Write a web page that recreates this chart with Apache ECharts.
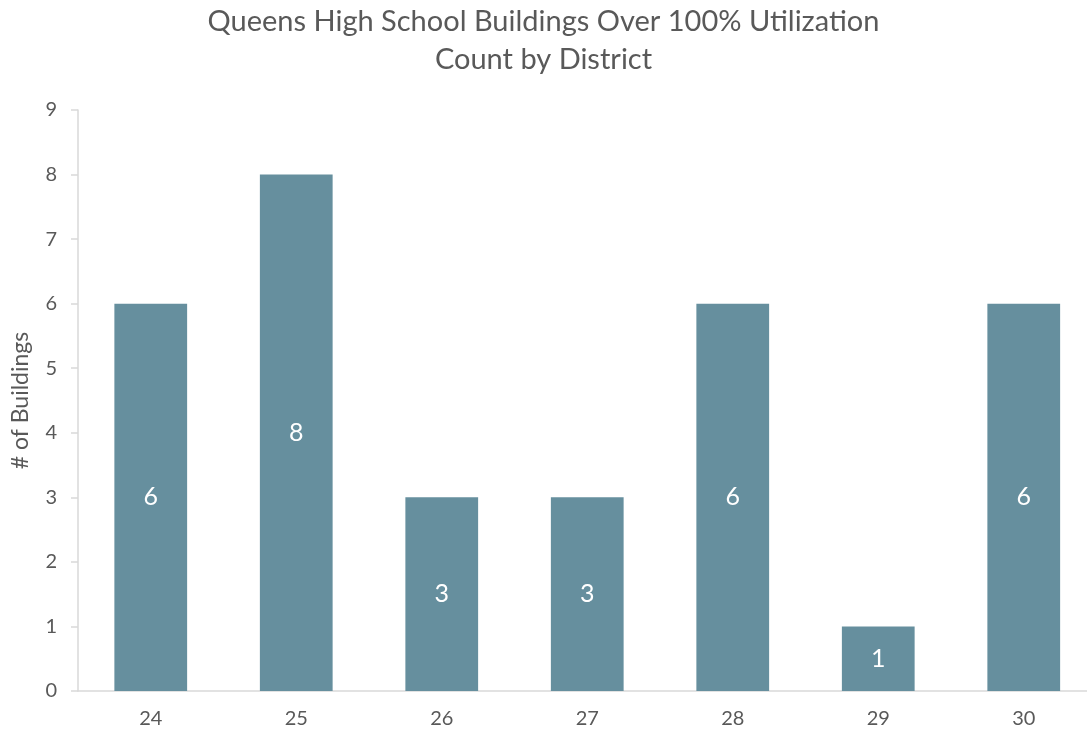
<!DOCTYPE html>
<html>
<head>
<meta charset="utf-8">
<script src="https://cdn.jsdelivr.net/npm/echarts@6/dist/echarts.min.js"></script>
<style>
  html, body { margin: 0; padding: 0; background: #fff; }
  #chart { width: 1087px; height: 735px; }
</style>
</head>
<body>
<div id="chart"></div>
<script>
// 구역별 100% 초과 건물 수
const districts = ['24', '25', '26', '27', '28', '29', '30'];
const buildingCounts = [6, 8, 3, 3, 6, 1, 6];
const yTicks = [0, 9, 1]; // min, max, interval

const textColor = '#595959';
const barColor = '#668f9e';
const fontFamily = 'Lato, "Open Sans", sans-serif';

const chart = echarts.init(document.getElementById('chart'));

chart.setOption({
    animation: false,
    textStyle: { fontFamily: fontFamily },
    title: {
        text: 'Queens High School Buildings Over 100% Utilization\nCount by District',
        left: 'center',
        top: -2,
        textStyle: {
            color: textColor,
            fontSize: 29,
            fontWeight: 'normal',
            lineHeight: 38,
            fontFamily: fontFamily
        }
    },
    grid: { left: 78, right: -9.5, top: 110, bottom: 44, outerBoundsMode: 'none' },
    xAxis: {
        type: 'category',
        data: districts,
        axisLine: { lineStyle: { color: '#d9d9d9', width: 1.5 } },
        axisTick: { show: false },
        axisLabel: { color: textColor, fontSize: 20, margin: 18 }
    },
    yAxis: {
        type: 'value',
        min: yTicks[0],
        max: yTicks[1],
        interval: yTicks[2],
        name: '# of Buildings',
        nameLocation: 'middle',
        nameGap: 46,
        nameTextStyle: { color: textColor, fontSize: 23 },
        axisLine: { show: true, lineStyle: { color: '#d9d9d9', width: 1.5 } },
        axisTick: { show: true, length: 7, lineStyle: { color: '#d9d9d9', width: 1.5 } },
        axisLabel: { color: textColor, fontSize: 20, margin: 21 },
        splitLine: { show: false }
    },
    series: [{
        type: 'bar',
        data: buildingCounts,
        barWidth: '50%',
        itemStyle: { color: barColor },
        label: {
            show: true,
            position: 'inside',
            color: '#ffffff',
            fontSize: 25
        }
    }]
});
</script>
</body>
</html>
